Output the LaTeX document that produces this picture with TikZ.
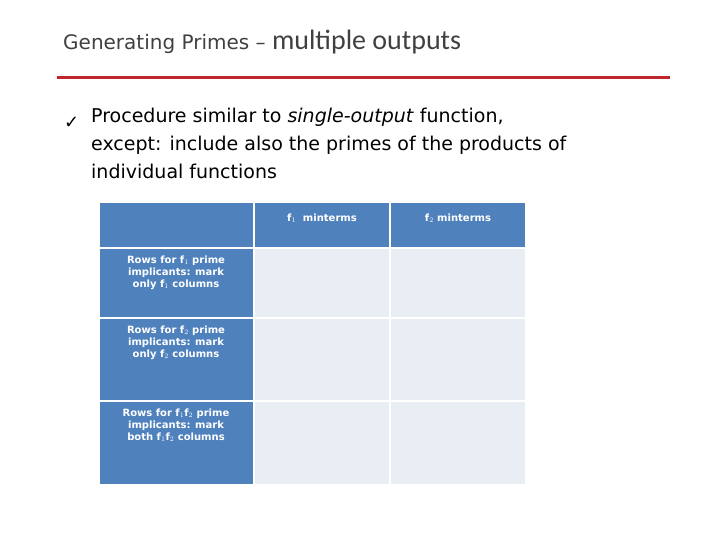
\documentclass[tikz,border=0pt]{standalone}
\usepackage{fontspec}
\setmainfont{DejaVu Sans}
\newfontfamily\carl{Carlito}
\definecolor{hdr}{HTML}{4F81BD}
\definecolor{cellc}{HTML}{E9EDF4}
\definecolor{rline}{HTML}{C0262A}
\definecolor{tgray}{HTML}{404040}
\begin{document}
\begin{tikzpicture}[x=1pt,y=-1pt,
  hcell/.style={fill=hdr,draw=none},
  lcell/.style={fill=cellc,draw=none},
  htext/.style={text=white,font=\fontsize{10}{12}\selectfont\bfseries,align=center,anchor=north},
  btext/.style={text=black,font=\fontsize{19}{28}\selectfont,anchor=north west,align=left}]
\useasboundingbox (0,0) rectangle (720,540);
\node[anchor=west,text=tgray,inner sep=0] (title) at (63,42) {\fontsize{20}{24}\selectfont Generating Primes – {\carl\fontsize{28}{30}\selectfont multiple outputs}};
\coordinate (la) at (57,78); \coordinate (lb) at (670,78);
\draw[rline,line width=3pt] (la) -- (lb);
\node[anchor=west,inner sep=0] (chk) at (64,123) {\fontsize{18}{20}\selectfont ✓};
\node[btext,inner sep=0] (body) at (91,108) {Procedure similar to \textit{single-output} function,\\ except: include also the primes of the products of\\ individual functions};
% table
\fill[hcell] (100,203) rectangle (253,247);
\fill[hcell] (255,203) rectangle (389,247);
\fill[hcell] (391,203) rectangle (525,247);
\fill[hcell] (100,249) rectangle (253,317);
\fill[hcell] (100,319) rectangle (253,400);
\fill[hcell] (100,402) rectangle (253,484);
\foreach \ya/\yb in {249/317,319/400,402/484}{
  \fill[lcell] (255,\ya) rectangle (389,\yb);
  \fill[lcell] (391,\ya) rectangle (525,\yb);
}
\node[htext] (c1) at (322,210) {f$_1$ ~minterms};
\node[htext] (c2) at (458,210) {f$_2$ minterms};
\node[htext] (r1) at (176,252) {Rows for f$_1$ prime\\implicants: mark\\only f$_1$ columns};
\node[htext] (r2) at (176,322) {Rows for f$_2$ prime\\implicants: mark\\only f$_2$ columns};
\node[htext] (r3) at (176,405) {Rows for f$_1$f$_2$ prime\\implicants: mark\\both f$_1$f$_2$ columns};
\end{tikzpicture}
\end{document}
